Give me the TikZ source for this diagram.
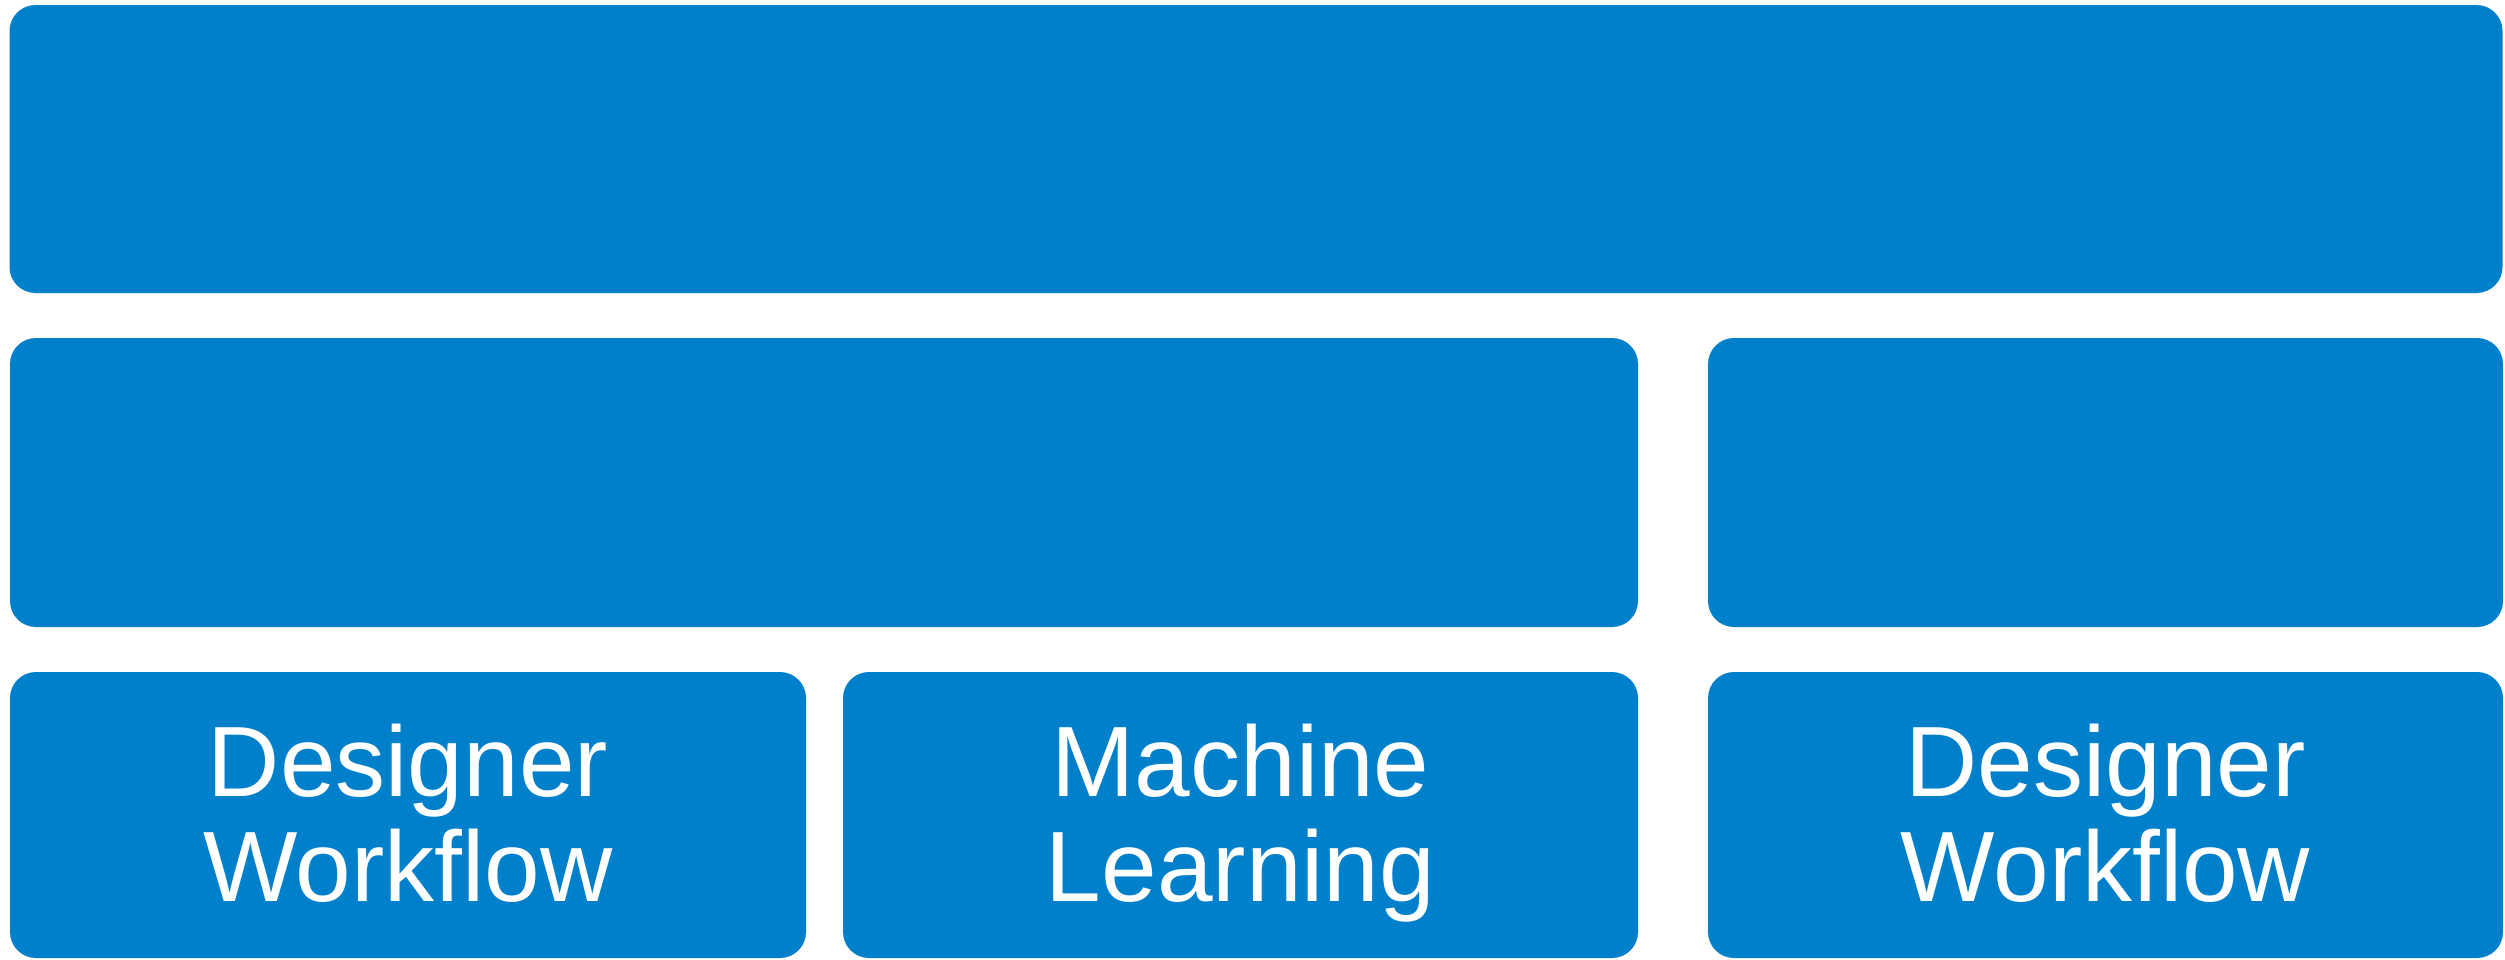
\documentclass[tikz,border=0pt]{standalone}
\usepackage{fontspec}
\setmainfont{Liberation Sans}
\definecolor{tileblue}{RGB}{0,128,202}
\begin{document}
\begin{tikzpicture}[x=1pt,y=-1pt,
  tile/.style={fill=tileblue, draw=none, rounded corners=26pt, inner sep=0pt, outer sep=0pt},
  tiletext/.style={text=white, anchor=base, align=center, text width=720pt, inner sep=0pt,
    font=\fontsize{100}{105}\selectfont}]
\useasboundingbox (0,0) rectangle (2505,959);
% top row
\node[tile, minimum width=2493pt, minimum height=288pt] (top) at (1256,149) {};
% middle row
\node[tile, minimum width=1628pt, minimum height=289pt] (midL) at (824,482.5) {};
\node[tile, minimum width=795pt, minimum height=289pt] (midR) at (2105.5,482.5) {};
% bottom row
\node[tile, minimum width=796pt, minimum height=286pt] (botL) at (408,815) {};
\node[tile, minimum width=795pt, minimum height=286pt] (botM) at (1240.5,815) {};
\node[tile, minimum width=795pt, minimum height=286pt] (botR) at (2105.5,815) {};
% labels
\node[tiletext] (tL) at ([yshift=19pt]botL.center) {Designer\\Workflow};
\node[tiletext] (tM) at ([yshift=19pt]botM.center) {Machine\\Learning};
\node[tiletext] (tR) at ([yshift=19pt]botR.center) {Designer\\Workflow};
\end{tikzpicture}
\end{document}
